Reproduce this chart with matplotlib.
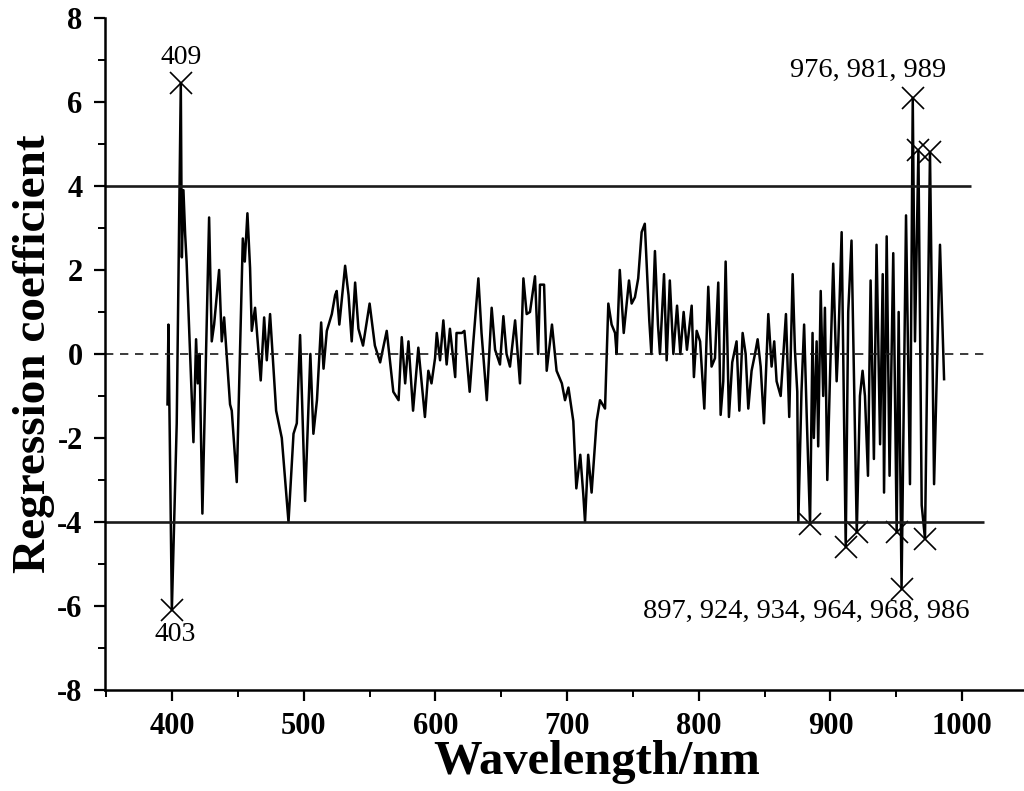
import matplotlib
matplotlib.use("Agg")
import matplotlib.pyplot as plt
from matplotlib.ticker import MultipleLocator

# regression coefficient curve, vertices (x as on the axis)
wavelength = [
    396.5, 397.2, 399.8, 403.5, 406.6, 407.4, 408.6, 409.9, 411.0, 416.2,
    418.2, 419.5, 420.8, 423.0, 428.1, 430.1, 431.9, 435.7, 437.7, 439.5,
    444.0, 445.3, 449.1, 453.7, 455.2, 457.2, 459.2, 460.5, 463.0, 467.3,
    469.9, 471.9, 474.4, 479.0, 483.3, 488.4, 492.2, 494.7, 497.2, 501.0,
    505.0, 507.3, 510.0, 513.2, 515.0, 517.5, 521.3, 523.8, 525.0, 527.0,
    531.4, 534.0, 536.4, 539.0, 541.5, 545.0, 550.0, 554.0, 558.0, 563.0,
    568.0, 572.0, 574.4, 577.0, 579.5, 583.0, 587.0, 592.0, 594.6, 597.0,
    599.7, 601.0, 603.5, 606.0, 608.5, 611.0, 615.0, 616.0, 620.0, 622.0,
    626.0, 628.8, 632.6, 635.0, 639.0, 642.7, 645.3, 649.0, 651.6, 654.0,
    656.6, 660.5, 664.2, 666.8, 669.3, 671.8, 675.6, 678.0, 679.4, 682.5,
    684.5, 688.5, 692.0, 696.0, 698.4, 701.0, 704.7, 707.0, 710.0, 712.3,
    713.6, 716.0, 718.6, 722.4, 725.0, 728.8, 731.3, 733.8, 736.4, 737.6,
    740.0, 743.0, 747.0, 749.0, 751.5, 754.0, 756.6, 759.0, 762.4, 764.0,
    766.7, 769.0, 770.5, 773.6, 775.6, 778.0, 780.7, 783.5, 786.0, 788.5,
    791.0, 794.6, 796.3, 798.4, 801.0, 804.2, 807.2, 809.7, 812.3, 814.8,
    816.6, 818.6, 820.4, 822.9, 825.4, 828.7, 830.8, 833.3, 835.6, 837.6,
    840.1, 842.7, 844.7, 847.0, 849.5, 852.8, 855.3, 857.3, 859.1, 862.2,
    866.2, 868.7, 871.3, 873.0, 874.8, 875.6, 878.0, 880.0, 882.0, 884.5,
    886.4, 887.4, 889.5, 890.7, 892.6, 894.5, 895.8, 897.6, 899.6, 902.1,
    904.7, 905.9, 908.5, 911.6, 913.5, 916.0, 920.0, 922.4, 924.4, 926.2,
    928.5, 930.5, 933.0, 935.0, 937.7, 939.7, 940.7, 942.7, 944.9, 947.7,
    950.3, 951.8, 954.0, 957.4, 960.4, 962.5, 964.2, 966.8, 969.3, 971.8,
    975.6, 978.7, 983.2, 986.3,
]
coefficient = [
    -1.2, 0.7, -6.1, -1.66, 6.45, 2.3, 3.9, 2.85, 2.2, -2.1,
    0.35, -0.7, 0.0, -3.8, 3.25, 0.3, 0.7, 2.0, 0.3, 0.87,
    -1.2, -1.35, -3.05, 2.75, 2.2, 3.35, 2.05, 0.55, 1.1, -0.63,
    0.87, -0.15, 0.95, -1.35, -2.0, -4.0, -1.9, -1.65, 0.45, -3.5,
    0.0, -1.9, -1.1, 0.75, -0.35, 0.55, 0.95, 1.4, 1.5, 0.7,
    2.1, 1.4, 0.3, 1.7, 0.6, 0.2, 1.2, 0.2, -0.2, 0.55,
    -0.9, -1.1, 0.4, -0.7, 0.3, -1.35, 0.15, -1.5, -0.4, -0.7,
    -0.1, 0.5, -0.15, 0.8, -0.25, 0.6, -0.55, 0.5, 0.5, 0.55,
    -0.9, 0.3, 1.8, 0.5, -1.1, 1.1, 0.1, -0.25, 0.9, 0.0,
    -0.3, 0.8, -0.7, 1.8, 0.95, 1.0, 1.85, 0.0, 1.65, 1.65,
    -0.4, 0.7, -0.4, -0.7, -1.1, -0.8, -1.6, -3.2, -2.4, -3.35,
    -4.0, -2.4, -3.3, -1.6, -1.1, -1.3, 1.2, 0.7, 0.5, 0.0,
    2.0, 0.5, 1.75, 1.2, 1.35, 1.8, 2.9, 3.1, 0.8, 0.0,
    2.45, 0.7, 0.0, 1.9, -0.15, 1.75, 0.0, 1.15, 0.0, 1.0,
    0.1, 1.15, -0.55, 0.55, 0.3, -1.3, 1.6, -0.3, -0.1, 1.7,
    -1.45, -0.65, 2.2, -1.5, -0.2, 0.3, -1.35, 0.5, 0.0, -1.3,
    -0.4, 0.0, 0.35, -0.3, -1.65, 0.95, -0.3, 0.3, -0.65, -1.0,
    0.95, -1.5, 1.9, 0.1, -0.9, -4.0, -0.9, 0.7, -1.5, -4.05,
    0.5, -2.0, 0.3, -2.2, 1.5, -1.0, 1.1, -3.0, -0.6, 2.15,
    -0.65, 0.2, 2.9, -4.6, 1.0, 2.7, -4.25, -1.0, -0.4, -1.0,
    -2.9, 1.75, -2.5, 2.6, -2.15, 1.9, -3.3, 2.8, -2.9, 2.4,
    -4.25, 1.0, -5.6, 3.3, -3.1, 6.1, 0.3, 4.85, -3.6, -4.4,
    4.8, -3.1, 2.6, -0.6,
]

# selected wavelengths (crosses), positions as drawn on the axis
peak_x = [406.6, 962.5, 966.8, 975.6]
peak_y = [6.45, 6.1, 4.85, 4.8]
dip_x = [399.8, 884.5, 911.6, 920.0, 950.3, 954.0, 971.8]
dip_y = [-6.1, -4.05, -4.6, -4.25, -4.25, -5.6, -4.4]

threshold = 4.0

plt.rcParams["font.family"] = ["Liberation Serif", "DejaVu Serif"]
plt.rcParams["axes.unicode_minus"] = False

fig = plt.figure(figsize=(10.24, 7.91), dpi=100)
ax = fig.add_axes([0.1025, 0.1277, 0.8975, 0.8496])

ax.plot(wavelength, coefficient, color="black", lw=1.8)
ax.plot(peak_x + dip_x, peak_y + dip_y, ls="none", marker="x",
        ms=16, mew=1.2, color="black")

ax.hlines(threshold, 349, 1007, color="#1a1a1a", lw=1.9)
ax.hlines(-threshold, 349, 1017, color="#1a1a1a", lw=1.9)
ax.hlines(0, 349, 1017, color="#1a1a1a", lw=1.2, linestyles=(0, (5, 4)))

ax.text(406.6, 7.05, "409", ha="center", va="center", fontsize=20)
ax.text(402.0, -6.67, "403", ha="center", va="center", fontsize=20)
ax.text(928.5, 6.74, "976, 981, 989", ha="center", va="center", fontsize=20.5)
ax.text(881.4, -6.12, "897, 924, 934, 964, 968, 986",
        ha="center", va="center", fontsize=20.5)

ax.set_xlim(349, 1047)
ax.set_ylim(-8, 8)
ax.xaxis.set_major_locator(MultipleLocator(100))
ax.xaxis.set_minor_locator(MultipleLocator(50))
ax.yaxis.set_major_locator(MultipleLocator(2))
ax.yaxis.set_minor_locator(MultipleLocator(1))
ax.set_xticks(range(400, 1001, 100))

for side in ["top", "right"]:
    ax.spines[side].set_visible(False)
for side in ["left", "bottom"]:
    ax.spines[side].set_linewidth(1.8)
ax.spines["left"].set_bounds(-8, 8)

ax.tick_params(which="major", direction="out", length=8, width=1.6,
               labelsize=22, pad=8)
ax.tick_params(which="minor", direction="out", length=5, width=1.4)
for lab in ax.get_xticklabels() + ax.get_yticklabels():
    lab.set_fontweight("bold")

ax.set_xlabel("Wavelength/nm", fontsize=35, fontweight="bold")
ax.xaxis.set_label_coords(0.535, -0.075)
ax.set_ylabel("Regression coefficient", fontsize=34, fontweight="bold",
              labelpad=2)

fig.savefig("out.png", dpi=100)
